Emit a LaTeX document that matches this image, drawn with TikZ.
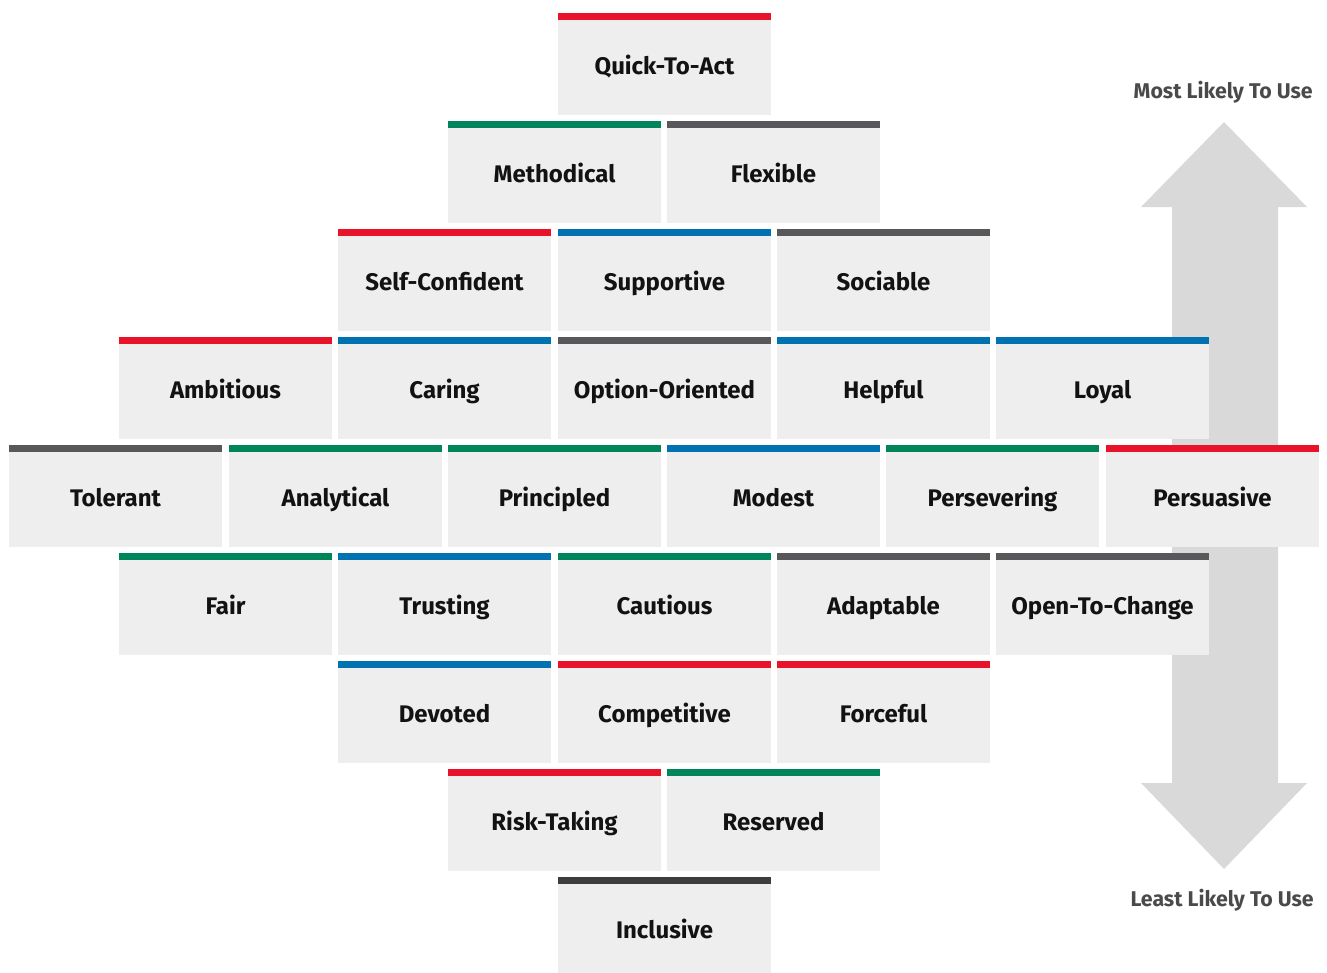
\documentclass[tikz,border=0pt]{standalone}
\usepackage{fontspec}
\usepackage{tikz}
\usepackage{xcolor}
\setmainfont{Fira Sans}

\definecolor{barRed}{RGB}{232,19,43}
\definecolor{barGreen}{RGB}{0,133,90}
\definecolor{barBlue}{RGB}{0,114,178}
\definecolor{barGray}{RGB}{88,88,90}
\definecolor{barDark}{RGB}{61,61,63}
\definecolor{boxFill}{RGB}{238,238,238}
\definecolor{arrowFill}{RGB}{217,217,217}
\definecolor{labelGray}{RGB}{74,74,74}

\tikzset{
  trait/.style={fill=boxFill, inner sep=0pt, minimum width=159.75pt, minimum height=76.5pt,
    text height=15pt, text depth=0pt, font=\fontsize{18}{20}\selectfont\bfseries, text=black!93,
    path picture={\fill[#1] (path picture bounding box.north west) rectangle ([yshift=-5.25pt]path picture bounding box.north east);}},
  scaleLabel/.style={anchor=base east, inner sep=0pt, text=labelGray, font=\fontsize{16}{18}\selectfont\bfseries}
}

\begin{document}
\begin{tikzpicture}[x=0.75pt,y=0.75pt,yscale=-1,xscale=1]
\path[use as bounding box] (0,0) rectangle (1327,972);

%Shape: Up Down Arrow [id:scaleArrow]
\fill [arrowFill] (1224,122) -- (1307,207) -- (1278,207) -- (1278,783) -- (1307,783) -- (1224,869) -- (1141,783) -- (1172,783) -- (1172,207) -- (1141,207) -- cycle ;

% row 1
\draw (664.5,64) node [trait=barRed] (quickToAct) {Quick-To-Act};
% row 2
\draw (554.5,172) node [trait=barGreen] (methodical) {Methodical};
\draw (773.5,172) node [trait=barGray] (flexible) {Flexible};
% row 3
\draw (444.5,280) node [trait=barRed] (selfConfident) {Self-Confident};
\draw (664.5,280) node [trait=barBlue] (supportive) {Supportive};
\draw (883.5,280) node [trait=barGray] (sociable) {Sociable};
% row 4
\draw (225.5,388) node [trait=barRed] (ambitious) {Ambitious};
\draw (444.5,388) node [trait=barBlue] (caring) {Caring};
\draw (664.5,388) node [trait=barGray] (optionOriented) {Option-Oriented};
\draw (883.5,388) node [trait=barBlue] (helpful) {Helpful};
\draw (1102.5,388) node [trait=barBlue] (loyal) {Loyal};
% row 5
\draw (115.5,496) node [trait=barGray] (tolerant) {Tolerant};
\draw (335.5,496) node [trait=barGreen] (analytical) {Analytical};
\draw (554.5,496) node [trait=barGreen] (principled) {Principled};
\draw (773.5,496) node [trait=barBlue] (modest) {Modest};
\draw (992.5,496) node [trait=barGreen] (persevering) {Persevering};
\draw (1212.5,496) node [trait=barRed] (persuasive) {Persuasive};
% row 6
\draw (225.5,604) node [trait=barGreen] (fair) {Fair};
\draw (444.5,604) node [trait=barBlue] (trusting) {Trusting};
\draw (664.5,604) node [trait=barGreen] (cautious) {Cautious};
\draw (883.5,604) node [trait=barGray] (adaptable) {Adaptable};
\draw (1102.5,604) node [trait=barGray] (openToChange) {Open-To-Change};
% row 7
\draw (444.5,712) node [trait=barBlue] (devoted) {Devoted};
\draw (664.5,712) node [trait=barRed] (competitive) {Competitive};
\draw (883.5,712) node [trait=barRed] (forceful) {Forceful};
% row 8
\draw (554.5,820) node [trait=barRed] (riskTaking) {Risk-Taking};
\draw (773.5,820) node [trait=barGreen] (reserved) {Reserved};
% row 9
\draw (664.5,928) node [trait=barDark] (inclusive) {Inclusive};

% Text Node
\draw (1313,98) node [scaleLabel] (mostLikely) {Most Likely To Use};
% Text Node
\draw (1314,906) node [scaleLabel] (leastLikely) {Least Likely To Use};
\end{tikzpicture}
\end{document}
